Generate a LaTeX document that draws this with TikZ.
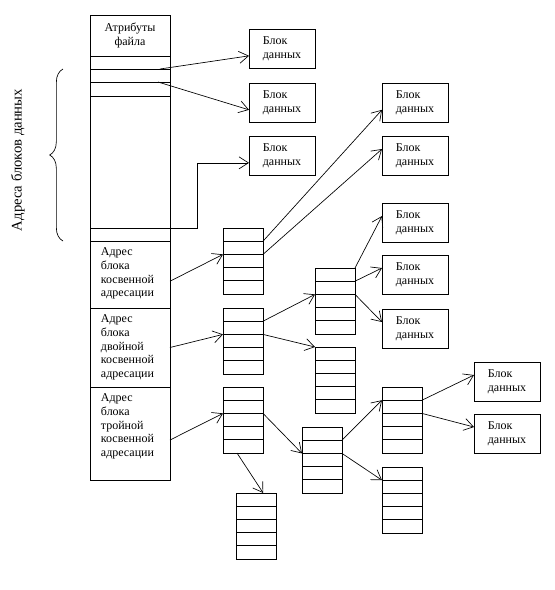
\documentclass[tikz,border=0pt]{standalone}
\usepackage{fontspec}
\setmainfont{Liberation Serif}
\usetikzlibrary{arrows.meta,calc,positioning,decorations.pathreplacing}

\tikzset{
  >={Straight Barb[length=7pt,width=9pt]},
  box/.style={draw, line width=0.75pt, inner sep=0pt, outer sep=0pt},
  cell/.style={box, minimum width=60pt, anchor=north west},
  datablock/.style={box, minimum width=49.5pt, minimum height=29.6pt,
    align=left, font=\fontsize{9}{10.2}\selectfont},
  celltext/.style={anchor=north west, align=left, inner xsep=8pt, inner ysep=5pt,
    font=\fontsize{9}{10.2}\selectfont},
  ptr/.style={->, line width=0.5pt},
}

% block of five pointers
\newcommand\ptrblock[3]{%
  \node[box, minimum width=30pt, minimum height=49.5pt, anchor=north west] (#1) at (#2,#3) {};
  \foreach \k in {1,...,4} {
    \coordinate (#1-w\k) at ($(#1.north west)!\k/5!(#1.south west)$);
    \coordinate (#1-e\k) at ($(#1.north east)!\k/5!(#1.south east)$);
    \draw[line width=0.75pt] (#1-w\k) -- (#1-e\k);
  }
}
% data block
\newcommand\datablk[3]{%
  \node[datablock, anchor=north west] (#1) at (#2,#3) {Блок\\данных};
  \coordinate (#1-hi) at ($(#1.north west)!0.33!(#1.south west)$);
  \coordinate (#1-lo) at ($(#1.north west)!0.68!(#1.south west)$);
}

\begin{document}
\begin{tikzpicture}[x=0.75pt, y=-0.75pt]
\useasboundingbox (0,0) rectangle (555,590);

% inode
\node[cell, minimum height=30.75pt, align=center, font=\fontsize{9}{11}\selectfont] (attr) at (90,15) {Атрибуты\\файла};
\node[cell, minimum height=9.75pt, below=0pt of attr] (d1) {};
\node[cell, minimum height=9.75pt, below=0pt of d1] (d2) {};
\node[cell, minimum height=10.5pt, below=0pt of d2] (d3) {};
\node[cell, minimum height=99pt, below=0pt of d3] (dmid) {};
\node[cell, minimum height=9.75pt, below=0pt of dmid] (dlast) {};
\node[cell, minimum height=50.25pt, below=0pt of dlast] (single) {};
\node[cell, minimum height=59.25pt, below=0pt of single] (double) {};
\node[cell, minimum height=69.75pt, below=0pt of double] (triple) {};
\node[celltext] at (single.north west) {Адрес\\блока\\косвенной\\адресации};
\node[celltext] at (double.north west) {Адрес\\блока\\двойной\\косвенной\\адресации};
\node[celltext] at (triple.north west) {Адрес\\блока\\тройной\\косвенной\\адресации};

% brace
\draw[decorate, decoration={brace, amplitude=10pt}, line width=0.5pt] (63,241) -- (63,69);
\node[rotate=90, font=\fontsize{11}{13}\selectfont] (addr) at (18,160) {Адреса блоков данных};

% data blocks
\datablk{b1}{249}{29}
\datablk{b2}{249}{83}
\datablk{b3}{249}{136}
\datablk{r1}{382}{83}
\datablk{r2}{382}{136}
\datablk{r3}{382}{203}
\datablk{r4}{382}{255}
\datablk{r5}{382}{309}
\datablk{f1}{474}{362}
\datablk{f2}{474}{414}

% pointer blocks
\ptrblock{sgl}{223}{228}
\ptrblock{dbl}{223}{308}
\ptrblock{trp}{223}{387}
\ptrblock{dblA}{315}{268}
\ptrblock{dblB}{315}{347}
\ptrblock{trpA}{302}{427}
\ptrblock{trpB}{236}{493}
\ptrblock{trpC}{382}{387}
\ptrblock{trpD}{382}{467}

% direct
\draw[ptr] ([xshift=-7.5pt]d1.south east) -- (b1-lo);
\draw[ptr] ([xshift=-9pt]d2.south east) -- (b2-lo);
\draw[ptr] (dlast.north east) -- ++(27,0) |- (b3-lo);

% indirect
\draw[ptr] ($(single.north east)!0.6!(single.south east)$) -- (sgl-w2);
\draw[ptr] (double.east) -- (dbl-w2);
\draw[ptr] ($(triple.north east)!0.57!(triple.south east)$) -- (trp-w2);

\draw[ptr] (sgl-e1) -- (r1-lo);
\draw[ptr] (sgl-e2) -- (r2-hi);

\draw[ptr] (dbl-e1) -- (dblA-w2);
\draw[ptr] (dbl-e2) -- (dblB.north west);
\draw[ptr] (dblA.north east) -- (r3-hi);
\draw[ptr] (dblA-e1) -- (r4-hi);
\draw[ptr] (dblA-e2) -- (r5-hi);

\draw[ptr] (trp-e2) -- (trpA-w2);
\draw[ptr] ($(trp.south west)!0.35!(trp.south east)$) -- ($(trpB.north west)!0.68!(trpB.north east)$);
\draw[ptr] (trpA-e1) -- (trpC-w1);
\draw[ptr] (trpA-e2) -- (trpD-w1);
\draw[ptr] (trpC-e1) -- (f1-hi);
\draw[ptr] (trpC-e2) -- (f2-hi);

\end{tikzpicture}
\end{document}
